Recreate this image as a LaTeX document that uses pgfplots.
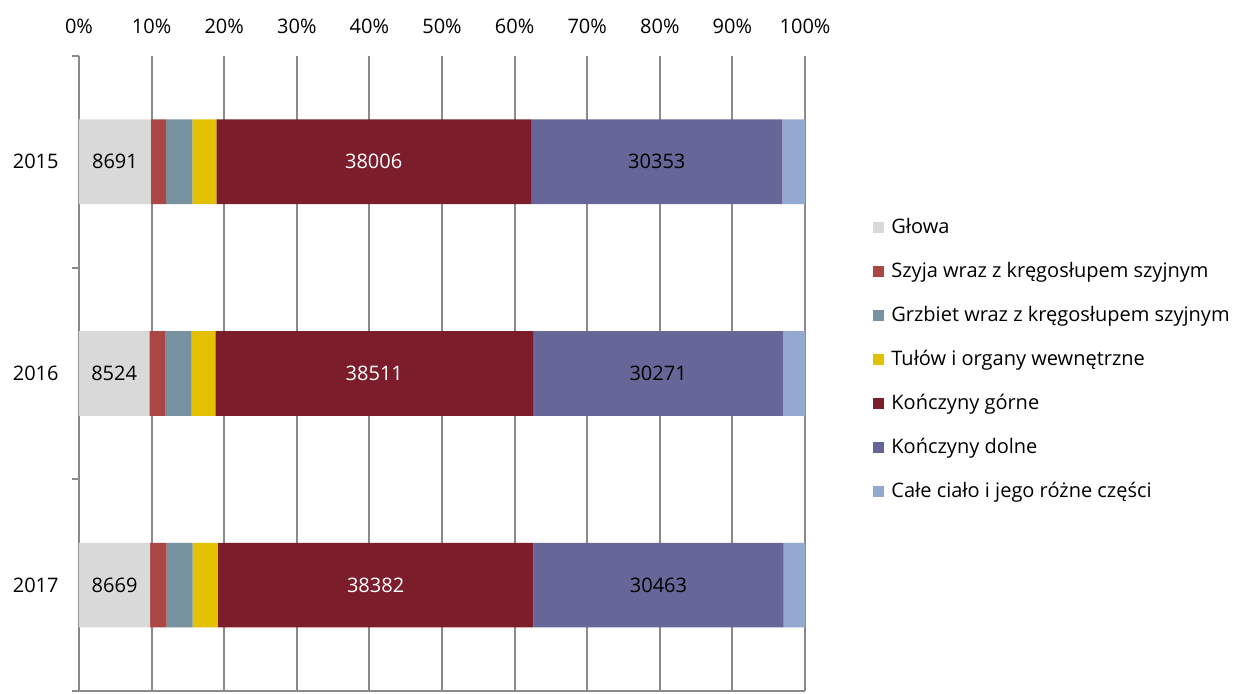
\documentclass[border=0pt]{standalone}
\usepackage{pgfplots}
\usepackage{pgfplotstable}
\pgfplotsset{compat=1.18}
\usepackage{fontspec}
\setmainfont{Open Sans}

\definecolor{cGlowa}{HTML}{D9D9D9}
\definecolor{cSzyja}{HTML}{AA4643}
\definecolor{cGrzbiet}{HTML}{7792A0}
\definecolor{cTulow}{HTML}{E3C100}
\definecolor{cGorne}{HTML}{7B1D2B}
\definecolor{cDolne}{HTML}{666698}
\definecolor{cCale}{HTML}{94A9D0}
\definecolor{gridgray}{HTML}{8A8A8A}

% Injuries by body part, 2015-2017 (counts)
\pgfplotstableread{
idx glowa szyja grzbiet tulow gorne dolne cale
0   8691  1815  3180    2895  38006 30353 2720
1   8524  1980  3150    2880  38511 30271 2670
2   8669  2000  3160    3080  38382 30463 2600
}\urazy
\pgfplotstablecreatecol[create col/expr={\thisrow{glowa}+\thisrow{szyja}+\thisrow{grzbiet}+\thisrow{tulow}+\thisrow{gorne}+\thisrow{dolne}+\thisrow{cale}}]{total}{\urazy}

% value labels in the middle of each stacked segment
\pgfplotsset{
  centred labels/.style={
    nodes near coords={\pgfmathprintnumber[fixed,precision=0,1000 sep={},assume math mode=true]{\pgfplotspointmeta}},
    point meta=explicit,
    every node near coord/.append style={anchor=center, text=#1},
  },
}

\begin{document}
\begin{tikzpicture}[font=\fontsize{10}{12}\selectfont]
\begin{axis}[
  name=ax,
  scale only axis, width=363pt, height=317.6pt,
  xbar stacked, bar width=0.4,
  xmin=0, xmax=100, ymin=-0.5, ymax=2.5, y dir=reverse,
  ytick={0,1,2}, yticklabels={2015,2016,2017},
  minor ytick={-0.5,0.5,1.5,2.5},
  ytick pos=left,
  xtick={0,10,...,100},
  xticklabels={0\%,10\%,20\%,30\%,40\%,50\%,60\%,70\%,80\%,90\%,100\%},
  xticklabel pos=upper,
  major tick length=0pt, minor tick length=3.5pt, tick align=outside,
  minor tick style={draw=gridgray, line width=1pt},
  xmajorgrids, major grid style={draw=gridgray, line width=1pt},
  axis line style={draw=none},
  xticklabel style={anchor=base, yshift=11pt, inner sep=0pt},
  yticklabel style={anchor=east, inner sep=0pt, xshift=-10pt},
  legend style={at={(1,0.52)}, anchor=west, xshift=34pt, draw=none,
    inner sep=0pt, row sep=12pt, column sep=3.5pt,
    nodes={inner sep=0pt, text height=7.5pt, text depth=2.5pt, anchor=base west}},
  legend image code/.code={\fill[#1] (0pt,0.3pt) rectangle (5.5pt,5.8pt);},
  legend cell align=left,
]
\addplot[fill=cGlowa, draw=none, centred labels=black]
  table[y=idx, x expr=100*\thisrow{glowa}/\thisrow{total}, meta=glowa]{\urazy};
\addplot[fill=cSzyja, draw=none]
  table[y=idx, x expr=100*\thisrow{szyja}/\thisrow{total}]{\urazy};
\addplot[fill=cGrzbiet, draw=none]
  table[y=idx, x expr=100*\thisrow{grzbiet}/\thisrow{total}]{\urazy};
\addplot[fill=cTulow, draw=none]
  table[y=idx, x expr=100*\thisrow{tulow}/\thisrow{total}]{\urazy};
\addplot[fill=cGorne, draw=none, centred labels=white]
  table[y=idx, x expr=100*\thisrow{gorne}/\thisrow{total}, meta=gorne]{\urazy};
\addplot[fill=cDolne, draw=none, centred labels=black]
  table[y=idx, x expr=100*\thisrow{dolne}/\thisrow{total}, meta=dolne]{\urazy};
\addplot[fill=cCale, draw=none]
  table[y=idx, x expr=100*\thisrow{cale}/\thisrow{total}]{\urazy};
\legend{Głowa, Szyja wraz z kręgosłupem szyjnym, Grzbiet wraz z kręgosłupem szyjnym,
  Tułów i organy wewnętrzne, Kończyny górne, Kończyny dolne, Całe ciało i jego różne części}
% axis lines: left category axis and bottom edge
\draw[gridgray, line width=1pt] (axis cs:0,-0.5) -- (axis cs:0,2.5);
\draw[gridgray, line width=1pt] (axis cs:0,2.5) -- (axis cs:100,2.5);
\end{axis}
\pgfresetboundingbox
\path[use as bounding box] (ax.south west) ++(-39.5pt,-1pt) rectangle ++(618pt,346.5pt);
\end{tikzpicture}
\end{document}
